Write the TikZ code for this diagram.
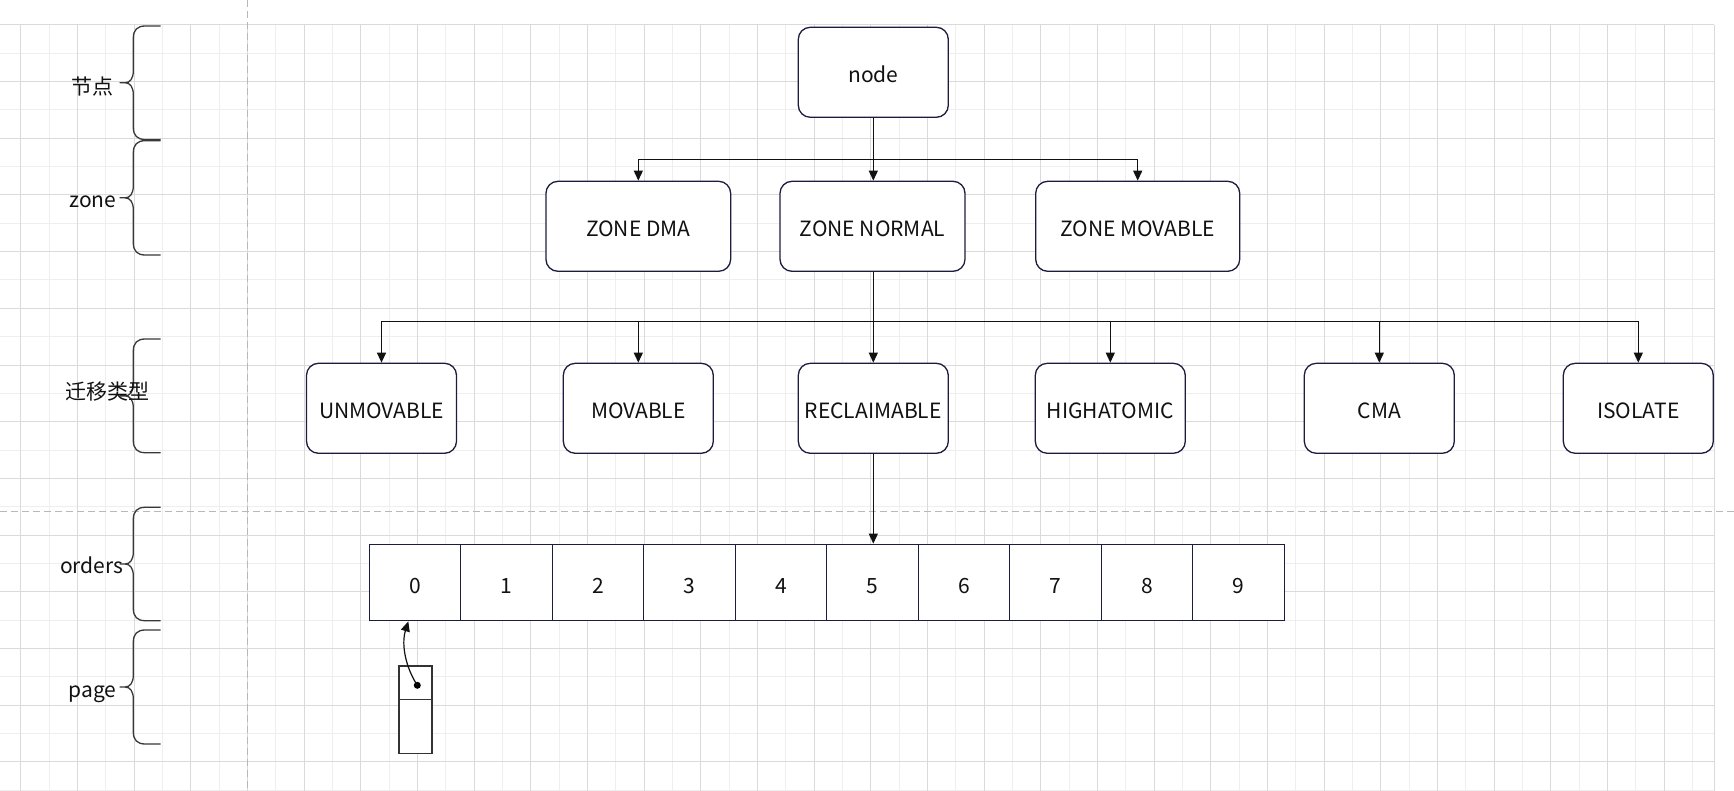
\documentclass[tikz,border=0pt]{standalone}
\usepackage{fontspec}
\setmainfont{Noto Sans CJK SC}
\usetikzlibrary{arrows.meta,calc}
\definecolor{gdark}{HTML}{DADADA}
\definecolor{glight}{HTML}{EEEEEE}
\definecolor{boxc}{HTML}{1C1C40}
\definecolor{txt}{HTML}{111111}
\definecolor{dashc}{HTML}{B8B8B8}
\newcommand\mybrace[2]{%
  \pgfmathsetmacro\bm{(#1+#2)/2}%
  \draw[brc] (160.7,#1) -- (145,#1) .. controls (137.5,#1) and (133.3,{#1+4}) .. (133.3,{#1+12})
    -- (133.3,{\bm-12}) .. controls (133.3,{\bm-4}) and (130,\bm) .. (125,\bm) -- (120,\bm)
    -- (125,\bm) .. controls (130,\bm) and (133.3,{\bm+4}) .. (133.3,{\bm+12})
    -- (133.3,{#2-12}) .. controls (133.3,{#2-4}) and (137.5,#2) .. (145,#2) -- (160.7,#2);}
\tikzset{
  txtstyle/.style={font=\fontsize{21pt}{24pt}\selectfont, text=txt, inner sep=0pt, text height=25pt, text depth=4pt},
  rbox/.style={txtstyle, draw=boxc, line width=1.3pt, rounded corners=12pt, fill=white, minimum height=90pt},
  cell/.style={txtstyle, draw=boxc, line width=1.3pt, fill=white, minimum width=91.5pt, minimum height=76.4pt},
  pcell/.style={draw=black!80, line width=1.2pt, fill=white, minimum width=33pt, inner sep=0pt},
  arr/.style={draw=txt, line width=1.3pt, -{Triangle[length=10pt,width=9pt]}},
  conn/.style={draw=txt, line width=1.3pt},
  brc/.style={draw=black!78, line width=1.3pt, line join=round},
  lbl/.style={txtstyle},
  dashl/.style={draw=dashc, line width=1pt, dash pattern=on 7pt off 4pt}
}
\begin{document}
\begin{tikzpicture}[x=1pt,y=-1pt]
\useasboundingbox (0,0) rectangle (1734,791);
\fill[white] (0,0) rectangle (1734,791);
% grid
\foreach \i in {0,...,29} {
  \draw[glight, line width=1pt] ({49.03+56.667*\i},25) -- ({49.03+56.667*\i},791);
}
\foreach \j in {0,...,13} {
  \draw[glight, line width=1pt] (0,{53.33+56.667*\j}) -- (1714.3,{53.33+56.667*\j});
}
\foreach \i in {0,...,29} {
  \draw[gdark, line width=1pt] ({20.7+56.667*\i},25) -- ({20.7+56.667*\i},791);
}
\foreach \j in {0,...,13} {
  \draw[gdark, line width=1pt] (0,{25+56.667*\j}) -- (1714.3,{25+56.667*\j});
}
\draw[gdark, line width=1pt] (1714.3,25) -- (1714.3,791);
% dashed separators
\draw[dashl] (247.3,0) -- (247.3,791);
\draw[dashl] (0,511.7) -- (1734,511.7);
% braces
\mybrace{26}{139.5}
\mybrace{140.7}{255}
\mybrace{339}{452.7}
\mybrace{507.3}{620.7}
\mybrace{630}{744}
% labels
\node[lbl] (l1) at (92.5,84.5) {节点};
\node[lbl] (l2) at (92.8,197.2) {zone};
\node[lbl] (l3) at (107.5,388.5) {迁移类型};
\node[lbl] (l4) at (91.7,563.2) {orders};
\node[lbl] (l5) at (92.7,686.5) {page};
% tree
\node[rbox, minimum width=150pt] (nd) at (873.3,72.3) {node};
\node[rbox, minimum width=184.7pt] (zdma) at (638.3,226.3) {ZONE DMA};
\node[rbox, minimum width=185pt] (znorm) at (872.5,226.3) {ZONE NORMAL};
\node[rbox, minimum width=204pt] (zmov) at (1137.7,226.3) {ZONE MOVABLE};
\node[rbox, minimum width=150pt] (unm) at (381.5,408.3) {UNMOVABLE};
\node[rbox, minimum width=150pt] (mov) at (638.3,408.3) {MOVABLE};
\node[rbox, minimum width=150pt] (rec) at (873.3,408.3) {RECLAIMABLE};
\node[rbox, minimum width=150pt] (high) at (1110.3,408.3) {HIGHATOMIC};
\node[rbox, minimum width=150pt] (cma) at (1379.3,408.3) {CMA};
\node[rbox, minimum width=150pt] (iso) at (1638.3,408.3) {ISOLATE};
% orders cells
\foreach \k in {0,...,9} {
  \node[cell] (c\k) at ({369.3+45.75+91.5*\k},582.5) {\k};
}
% page
\node[pcell, minimum height=33.3pt] (pg1) at (415.5,682.65) {};
\node[pcell, minimum height=54pt] (pg2) at (415.5,726.3) {};
% connectors
\coordinate (j1) at (873.3,159.3);
\coordinate (j2) at (873.3,321.7);
\draw[conn] (nd.south) -- (j1);
\draw[arr] (j1) -- (znorm.north -| j1);
\draw[arr] (j1) -| (zdma.north);
\draw[arr] (j1) -| (zmov.north);
\draw[conn] (znorm.south -| j2) -- (j2);
\draw[arr] (j2) -- (rec.north);
\draw[arr] (j2) -| (unm.north);
\draw[arr] (j2) -| (mov.north);
\draw[arr] (j2) -| (high.north);
\draw[arr] (j2) -| (cma.north);
\draw[arr] (j2) -| (iso.north);
\draw[arr] (rec.south) -- (rec.south |- c5.north);
% page pointer
\node[circle, fill=black, inner sep=0pt, minimum size=7pt] (dot) at (417.3,685.3) {};
\coordinate (ptip) at (408.3,621.4);
\draw[arr, line width=1.2pt] (dot.center) .. controls (406,668) and (401,645) .. (ptip);
\end{tikzpicture}
\end{document}
